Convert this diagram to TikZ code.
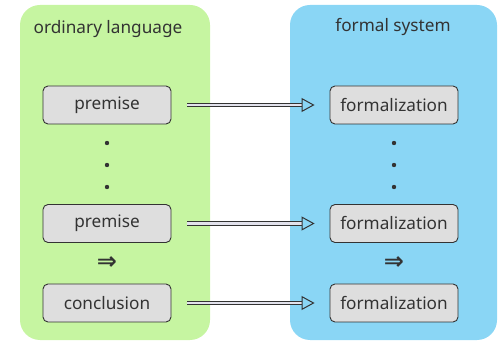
\documentclass[tikz,border=0pt]{standalone}
\usepackage{fontspec}
\setmainfont{Noto Sans}
\newfontfamily\symfont{DejaVu Sans}
\usepackage{tikz}
\usetikzlibrary{arrows.meta,positioning,calc}
\definecolor{gn}{RGB}{198,245,161}
\definecolor{bu}{RGB}{138,214,245}
\definecolor{bx}{RGB}{222,222,222}
\definecolor{tx}{RGB}{51,51,51}
\definecolor{ar}{RGB}{226,226,236}

\tikzset{
  panel/.style={rounded corners=20pt,draw=none},
  stepbox/.style={draw=tx,line width=0.9pt,fill=bx,rounded corners=5pt,
    minimum width=128pt,minimum height=38pt,inner sep=0pt,
    font=\fontsize{17.2}{20}\selectfont,text=tx},
  maparrow/.style={draw=tx,double=ar,double distance=2.6pt,line width=1pt,
    -{Triangle[open,length=13pt,width=14pt]}},
  vdot/.style={circle,fill=tx,inner sep=0pt,minimum size=4.4pt},
  implies/.style={font=\symfont\bfseries\fontsize{24}{26}\selectfont,text=tx},
  title/.style={font=\fontsize{17.2}{20}\selectfont,text=tx}
}

\begin{document}
\begin{tikzpicture}[x=1pt,y=1pt]
  \useasboundingbox (0,0) rectangle (500,345);

  % panels
  \fill[panel,gn] (20,5) rectangle (210,340);
  \fill[panel,bu] (290,5) rectangle (497,340);
  \node[title] (tl) at (108,316) {ordinary language};
  \node[title] (tr) at (393,318) {formal system};

  % left column
  \node[stepbox] (p1) at (107,240) {premise};
  \node[stepbox] (p2) at (107,121.5) {premise};
  \node[stepbox] (c) at (107,42) {conclusion};
  \foreach \yy in {202,180,158} \node[vdot] at (107,\yy) {};
  \node[implies] (il) at (107,82) {⇒};

  % right column
  \node[stepbox] (f1) at (394,240) {formalization};
  \node[stepbox] (f2) at (394,121.5) {formalization};
  \node[stepbox] (f3) at (394,42) {formalization};
  \foreach \yy in {202,180,158} \node[vdot] at (394,\yy) {};
  \node[implies] (ir) at (394,82) {⇒};

  % mapping arrows
  \draw[maparrow] ([xshift=16pt]p1.east) -- ([xshift=-15pt]f1.west);
  \draw[maparrow] ([xshift=16pt]p2.east) -- ([xshift=-15pt]f2.west);
  \draw[maparrow] ([xshift=16pt]c.east) -- ([xshift=-15pt]f3.west);
\end{tikzpicture}
\end{document}
